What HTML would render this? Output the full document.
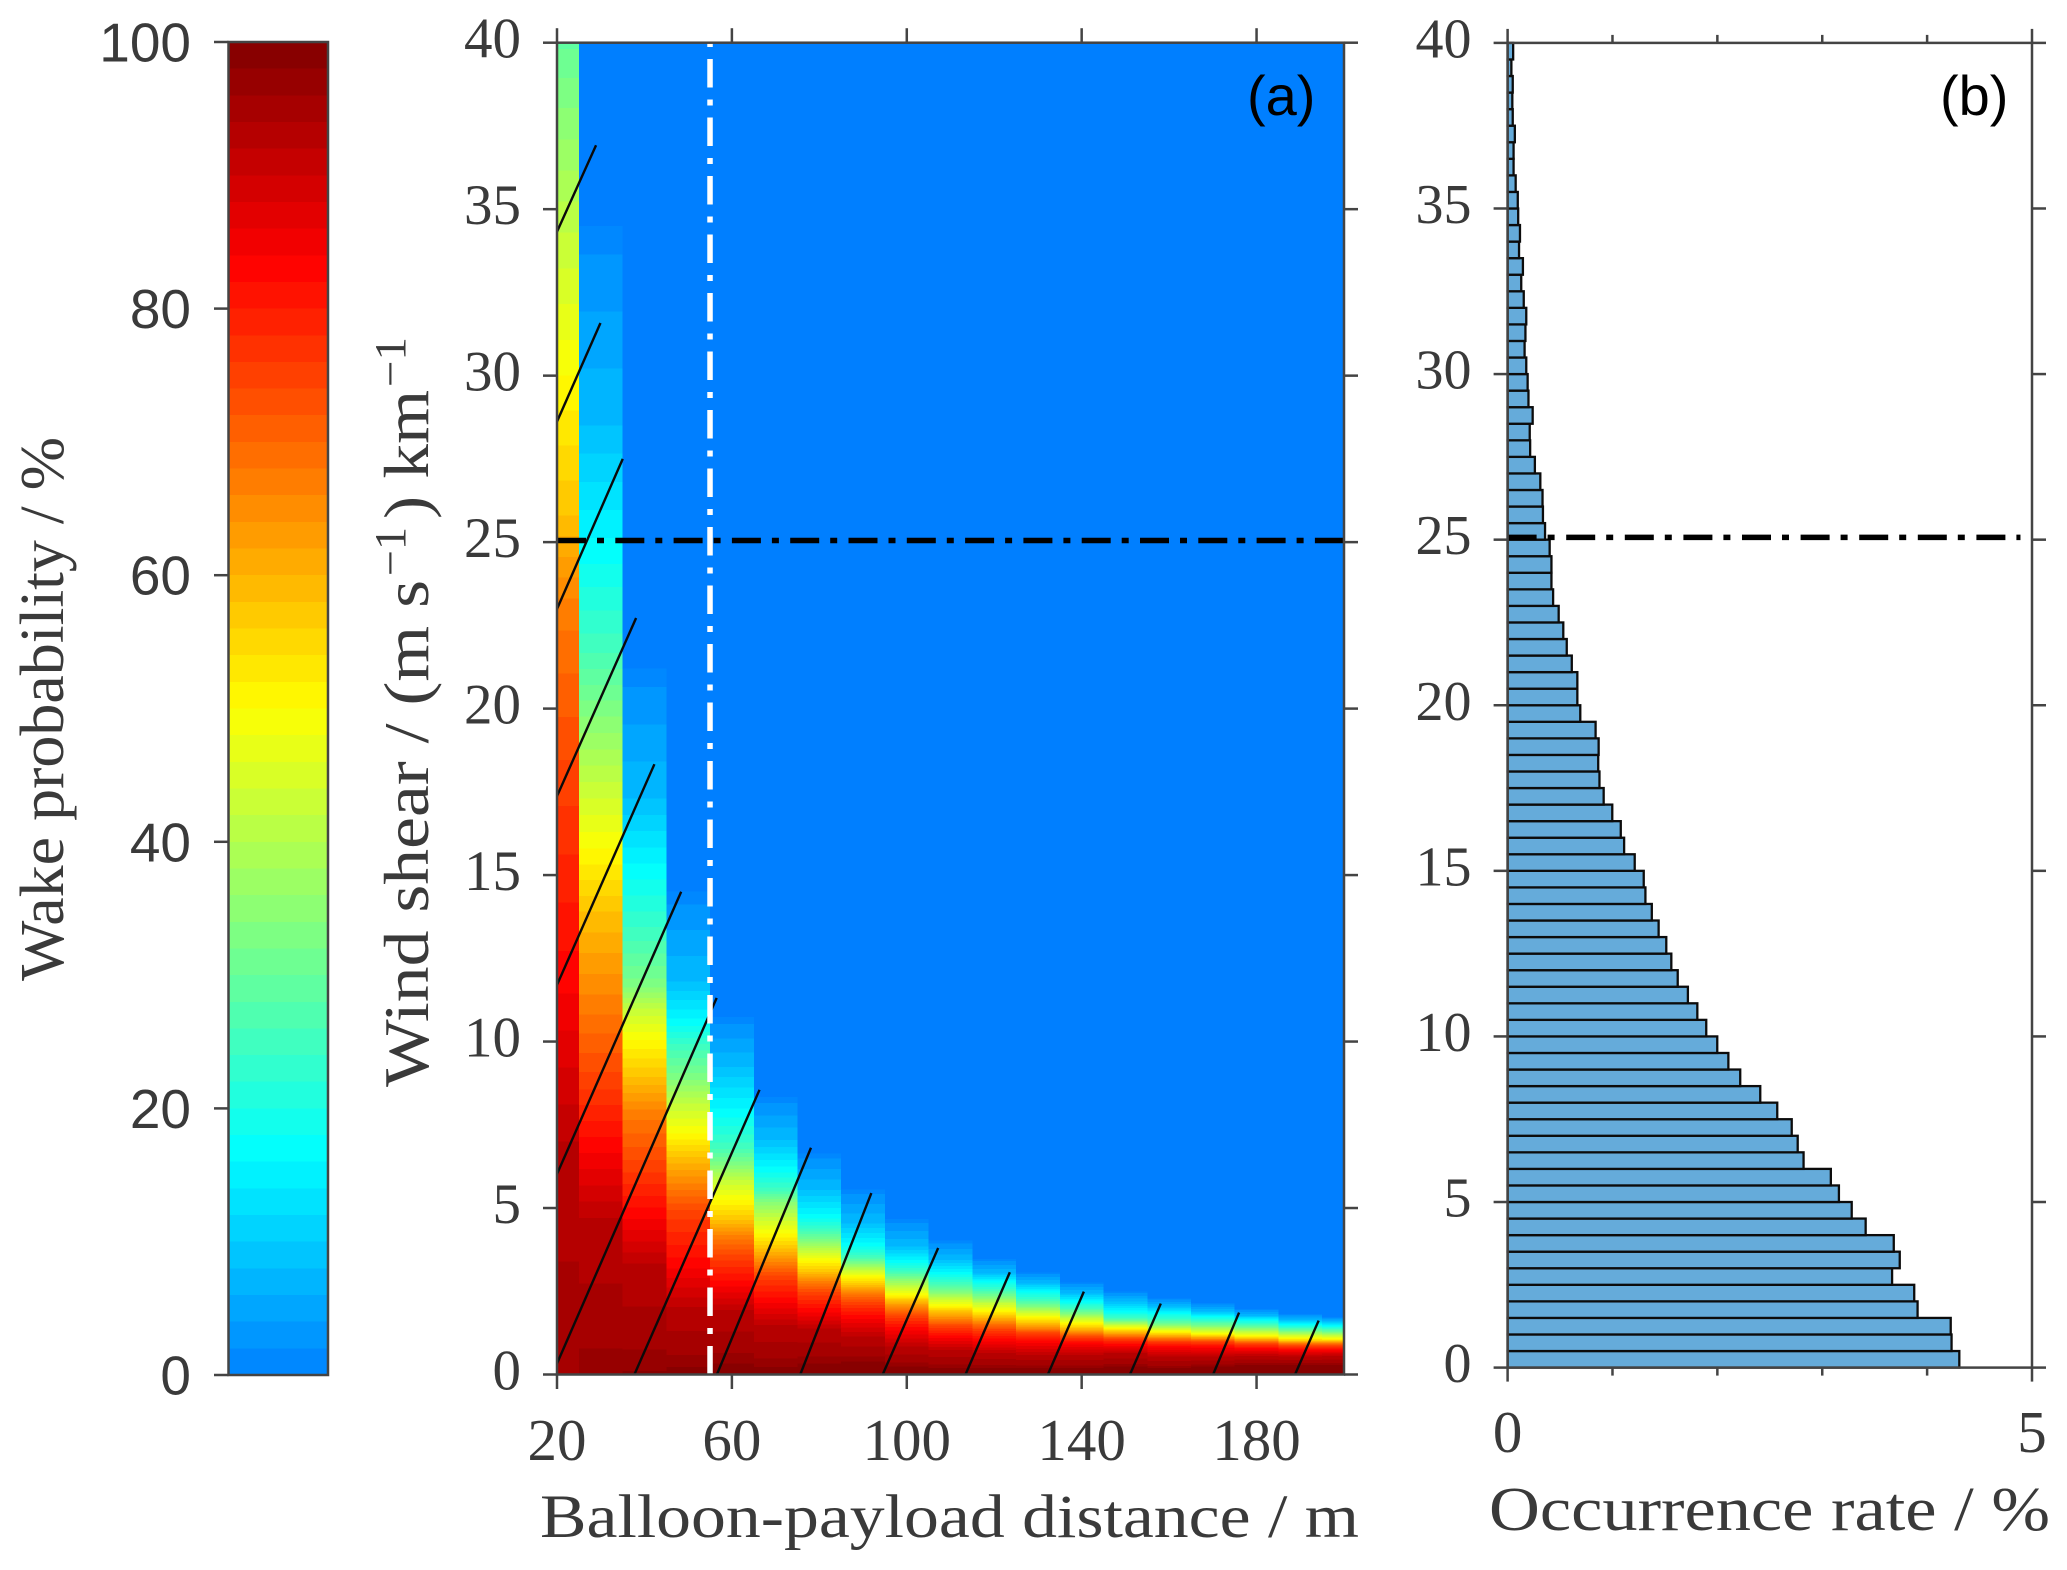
<!DOCTYPE html>
<html lang="en">
<head>
<meta charset="utf-8">
<title>Wake probability and wind shear occurrence</title>
<style>
html,body{margin:0;padding:0;background:#fff;}
svg{display:block;}
.serif{font-family:"Liberation Serif",serif;fill:#3a3a3a;}
.sans{font-family:"Liberation Sans",sans-serif;}
</style>
</head>
<body>
<svg id="fig" width="2067" height="1570" viewBox="0 0 2067 1570" xmlns="http://www.w3.org/2000/svg">
  <defs>
    <clipPath id="plotClip"><rect x="557" y="42.7" width="787" height="1331.8"/></clipPath>
  </defs>
  <rect x="0" y="0" width="2067" height="1570" fill="#fff"/>

  <g id="colorbar"></g>
  <g id="panelA">
    <rect x="557" y="42.7" width="787" height="1331.8" fill="#007fff"/>
    <g id="heat" clip-path="url(#plotClip)" shape-rendering="crispEdges"></g>
    <g id="diagonals" clip-path="url(#plotClip)"></g>
    <g id="refA"></g>
    <g id="axesA"></g>
  </g>
  <g id="panelB">
    <g id="bars"></g>
    <g id="refB"></g>
    <g id="axesB"></g>
  </g>

  <text class="serif" font-size="62" transform="rotate(-90 63 981)" x="63" y="981" textLength="544" lengthAdjust="spacingAndGlyphs">Wake probability / %</text>

  <text class="serif" font-size="63" transform="rotate(-90 428 1087)" x="428" y="1087" textLength="507" lengthAdjust="spacingAndGlyphs">Wind shear / (m s</text>
  <text class="serif" font-size="44" transform="rotate(-90 405 576)" x="405" y="576" textLength="49" lengthAdjust="spacingAndGlyphs">−1</text>
  <text class="serif" font-size="63" transform="rotate(-90 428 519)" x="428" y="519" textLength="129" lengthAdjust="spacingAndGlyphs">) km</text>
  <text class="serif" font-size="44" transform="rotate(-90 405 387)" x="405" y="387" textLength="50" lengthAdjust="spacingAndGlyphs">−1</text>

  <text class="serif" font-size="61" x="540" y="1537" textLength="819" lengthAdjust="spacingAndGlyphs">Balloon-payload distance / m</text>
  <text class="serif" font-size="62" x="1489" y="1530" textLength="561" lengthAdjust="spacingAndGlyphs">Occurrence rate / %</text>

  <text class="sans" font-size="56" fill="#000" x="1247" y="115">(a)</text>
  <text class="sans" font-size="56" fill="#000" x="1940" y="115">(b)</text>
</svg>

<script>
// ---- Colour scale ----
const colorStopValues = [0, 16.67, 33.33, 50, 66.67, 83.33, 100];
const colorStopReds = [0, 0, 128, 255, 255, 255, 128];
const colorStopGreens = [128, 255, 255, 255, 128, 0, 0];
const colorStopBlues = [255, 255, 128, 0, 0, 0, 0];
const colorbarTicks = [0, 20, 40, 60, 80, 100];

// ---- Panel (a): wake probability heatmap ----
const columnDistances = [20, 30, 40, 50, 60, 70, 80, 90, 100, 110, 120, 130, 140, 150, 160, 170, 180, 190, 200];
// probability levels (%) at which the shear values below were read, per column
const probLevels = [1, 8, 17, 25, 33, 42, 50, 58, 67, 75, 83, 92, 97];
const shearCol20 = [56, 53, 48, 42, 38.5, 34.3, 30, 25.8, 23, 17.8, 12, 7, -2];
const shearCol30 = [34.5, 28.5, 24.7, 21.9, 20, 17.8, 15.8, 13.9, 11.1, 8.8, 6.9, 4.7, -0.2];
const shearCol40 = [21.2, 17.3, 15.1, 13.2, 11.7, 11, 10.05, 8.94, 7.84, 6.24, 4.84, 3.33, 0.1];
const shearCol50 = [14.5, 11.8, 10.55, 9.84, 8.94, 8.14, 7.24, 6.54, 5.64, 4.84, 3.33, 2.03, 0.23];
const shearCol60 = [10.74, 9.24, 7.84, 6.84, 6.34, 5.84, 5.24, 4.64, 4.13, 3.53, 2.73, 1.93, 0.33];
const shearCol70 = [8.34, 7.04, 6.14, 5.54, 5.24, 4.73, 4.23, 3.78, 3.33, 2.93, 2.23, 1.48, 0.23];
const shearCol80 = [6.64, 5.54, 4.73, 4.33, 4.03, 3.73, 3.43, 3.08, 2.78, 2.43, 1.93, 1.38, 0.33];
const shearCol90 = [5.56, 4.54, 3.89, 3.54, 3.34, 3.14, 2.94, 2.69, 2.44, 2.14, 1.74, 1.14, 0.39];
const shearCol100 = [4.67, 3.84, 3.39, 3.09, 2.89, 2.64, 2.39, 2.22, 1.99, 1.74, 1.39, 0.84, 0.24];
const shearCol110 = [4.02, 3.44, 3.04, 2.74, 2.49, 2.29, 2.06, 1.89, 1.64, 1.44, 1.14, 0.74, 0.19];
const shearCol120 = [3.47, 3.04, 2.79, 2.54, 2.34, 2.14, 1.92, 1.74, 1.54, 1.34, 1.04, 0.64, 0.19];
const shearCol130 = [3.07, 2.74, 2.49, 2.24, 2.04, 1.89, 1.72, 1.54, 1.37, 1.24, 0.99, 0.59, 0.19];
const shearCol140 = [2.77, 2.44, 2.19, 1.99, 1.84, 1.69, 1.54, 1.39, 1.24, 1.12, 0.94, 0.59, 0.19];
const shearCol150 = [2.49, 2.19, 1.89, 1.69, 1.59, 1.49, 1.39, 1.29, 1.17, 1.07, 0.89, 0.64, 0.24];
const shearCol160 = [2.29, 2.04, 1.84, 1.64, 1.5, 1.39, 1.29, 1.19, 1.09, 0.99, 0.84, 0.54, 0.19];
const shearCol170 = [2.14, 1.89, 1.74, 1.59, 1.46, 1.34, 1.22, 1.14, 1.06, 0.98, 0.82, 0.54, 0.24];
const shearCol180 = [1.96, 1.76, 1.64, 1.5, 1.39, 1.28, 1.16, 1.08, 1.0, 0.92, 0.78, 0.56, 0.29];
const shearCol190 = [1.81, 1.64, 1.5, 1.39, 1.29, 1.19, 1.09, 1.0, 0.94, 0.86, 0.74, 0.54, 0.29];
const shearCol200 = [1.72, 1.59, 1.46, 1.36, 1.26, 1.17, 1.07, 1.0, 0.94, 0.86, 0.74, 0.56, 0.29];
const heatColumns = [shearCol20, shearCol30, shearCol40, shearCol50, shearCol60, shearCol70, shearCol80, shearCol90, shearCol100, shearCol110, shearCol120, shearCol130, shearCol140, shearCol150, shearCol160, shearCol170, shearCol180, shearCol190, shearCol200];

// diagonal lines: distance / shear of each end
const diagStartDistance = [20, 20, 20, 20, 20, 20, 20, 37.7, 56.57, 75.64, 94.49, 113.43, 132.27, 151.05, 170.06, 188.8];
const diagStartShear = [34.32, 28.62, 22.99, 17.37, 11.7, 6.02, 0.33, 0, 0, 0, 0, 0, 0, 0, 0, 0];
const diagEndDistance = [28.93, 29.94, 35.04, 38.09, 42.28, 48.4, 56.52, 66.32, 78.09, 91.9, 107.18, 123.57, 140.5, 158.1, 176, 194.2];
const diagEndShear = [36.92, 31.58, 27.5, 22.72, 18.33, 14.5, 11.31, 8.55, 6.81, 5.45, 3.8, 3.07, 2.49, 2.13, 1.86, 1.62];

const xTicksA = [20, 60, 100, 140, 180];
const yTicks = [0, 5, 10, 15, 20, 25, 30, 35, 40];
const refShearA = 25.05;
const refDistanceA = 55;

// ---- Panel (b): occurrence rate, bins of 0.5 from shear 0 upward ----
const occurrenceRates = [
  4.307, 4.233, 4.225, 3.909, 3.877, 3.666, 3.739, 3.682, 3.414, 3.281,
  3.159, 3.082, 2.822, 2.766, 2.709, 2.571, 2.409, 2.218, 2.105, 1.999,
  1.894, 1.809, 1.719, 1.622, 1.561, 1.513, 1.44, 1.375, 1.314, 1.298,
  1.212, 1.111, 1.079, 0.998, 0.916, 0.876, 0.864, 0.868, 0.839, 0.693,
  0.665, 0.665, 0.612, 0.564, 0.531, 0.487, 0.434, 0.418, 0.418, 0.401,
  0.357, 0.337, 0.333, 0.312, 0.26, 0.215, 0.211, 0.239, 0.199, 0.191,
  0.178, 0.162, 0.17, 0.178, 0.154, 0.13, 0.146, 0.109, 0.118, 0.101,
  0.097, 0.077, 0.057, 0.057, 0.069, 0.049, 0.045, 0.049, 0.036, 0.053
];
const binWidth = 0.5;
const xTicksB = [0, 1, 2, 3, 4, 5];
const xTickLabelsB = [0, 5];
const refShearB = 25.07;
const refRateEndB = 4.89;

// ---- Axis functions ----
const xA = d => 557 + (d - 20) * (787 / 180);
const yA = s => 1374.5 - s * (1331.8 / 40);
const xB = v => 1507.6 + v * (524.4 / 5);
const yB = s => 1367.6 - s * (1324.7 / 40);
const yC = p => 1375 - p * (1333 / 100);

const NS = 'http://www.w3.org/2000/svg';
const AXIS = '#444';
function mk(tag, attrs, parent) {
  const el = document.createElementNS(NS, tag);
  for (const k in attrs) el.setAttribute(k, attrs[k]);
  parent.appendChild(el);
  return el;
}
function colorAt(p) {
  let i = 0;
  while (i < colorStopValues.length - 2 && p > colorStopValues[i + 1]) i++;
  const t = (p - colorStopValues[i]) / (colorStopValues[i + 1] - colorStopValues[i]);
  const f = c => Math.round(c[i] + (c[i + 1] - c[i]) * t);
  return 'rgb(' + f(colorStopReds) + ',' + f(colorStopGreens) + ',' + f(colorStopBlues) + ')';
}
function shearAt(col, p) {
  const L = probLevels;
  if (p <= L[0]) return col[0];
  for (let i = 1; i < L.length; i++) {
    if (p <= L[i]) return col[i - 1] + (col[i] - col[i - 1]) * (p - L[i - 1]) / (L[i] - L[i - 1]);
  }
  return col[col.length - 1];
}

// ---- Colourbar ----
const cb = document.getElementById('colorbar');
for (let i = 0; i < 50; i++) {
  const band = mk('rect', {x: 228.5, y: yC(2 * i + 2), width: 99.5, height: yC(2 * i) - yC(2 * i + 2), fill: colorAt(2 * i + 1), 'shape-rendering': 'crispEdges'}, cb);
  
  
}
const cbFrame = mk('rect', {x: 228.5, y: yC(100), width: 99.5, height: yC(0) - yC(100), fill: 'none', stroke: AXIS, 'stroke-width': 2.5}, cb);


colorbarTicks.forEach(t => {
  const tick = mk('line', {x1: 214, x2: 228.5, y1: yC(t), y2: yC(t), stroke: AXIS, 'stroke-width': 2.5}, cb);
  
  
  const lab = mk('text', {x: 191, y: yC(t) + 19.5, 'text-anchor': 'end', 'font-size': 55, fill: '#3a3a3a', 'font-family': '"Liberation Sans", sans-serif'}, cb);
  
  
  lab.textContent = t;
});

// ---- Heatmap ----
const heat = document.getElementById('heat');
columnDistances.forEach((d, c) => {
  const col = heatColumns[c];
  const x0 = xA(d - 5), x1 = xA(d + 5);
  for (let i = 0; i < 49; i++) {
    const pLow = Math.max(2 * i, probLevels[0]);
    const pHigh = Math.min(2 * i + 2, probLevels[probLevels.length - 1]);
    if (pHigh <= pLow) continue;
    const yTop = yA(shearAt(col, pLow));
    const yBot = yA(shearAt(col, pHigh));
    if (yBot <= yTop) continue;
    const cell = mk('rect', {x: x0, y: yTop, width: x1 - x0, height: yBot - yTop + 0.5, fill: colorAt(2 * i + 1)}, heat);
    
    
  }
  const last = col[col.length - 1];
  if (last > 0) {
    const cell = mk('rect', {x: x0, y: yA(last), width: x1 - x0, height: yA(0) - yA(last), fill: colorAt(99)}, heat);
    
    
  }
});

// ---- Diagonal lines ----
const diag = document.getElementById('diagonals');
diagStartDistance.forEach((d, i) => {
  const ln = mk('line', {x1: xA(d), y1: yA(diagStartShear[i]), x2: xA(diagEndDistance[i]), y2: yA(diagEndShear[i]), stroke: '#0a0a0a', 'stroke-width': 2.4}, diag);
  
  
});

// ---- Reference lines (a) ----
const refA = document.getElementById('refA');
const vRef = mk('line', {x1: xA(refDistanceA), x2: xA(refDistanceA), y1: yA(0), y2: yA(40), stroke: '#fff', 'stroke-width': 5.5, 'stroke-dasharray': '28.5 12 6 12'}, refA);


const hRef = mk('line', {x1: xA(20), x2: xA(200), y1: yA(refShearA), y2: yA(refShearA), stroke: '#000', 'stroke-width': 5.5, 'stroke-dasharray': '29 11 7 11.3'}, refA);



// ---- Axes (a) ----
const axA = document.getElementById('axesA');
const frameA = mk('rect', {x: xA(20), y: yA(40), width: xA(200) - xA(20), height: yA(0) - yA(40), fill: 'none', stroke: AXIS, 'stroke-width': 2.5}, axA);


yTicks.forEach(t => {
  const left = mk('line', {x1: 543, x2: 557, y1: yA(t), y2: yA(t), stroke: AXIS, 'stroke-width': 2.5}, axA);
  
  
  const right = mk('line', {x1: 1344, x2: 1358, y1: yA(t), y2: yA(t), stroke: AXIS, 'stroke-width': 2.5}, axA);
  
  
  const lab = mk('text', {x: 521, y: yA(t) + 15, 'text-anchor': 'end', 'font-size': 57, fill: '#3a3a3a', 'font-family': '"Liberation Serif", serif'}, axA);
  
  
  lab.textContent = t;
});
xTicksA.forEach(t => {
  const bottom = mk('line', {x1: xA(t), x2: xA(t), y1: yA(0), y2: yA(0) + 14.5, stroke: AXIS, 'stroke-width': 2.5}, axA);
  
  
  const top = mk('line', {x1: xA(t), x2: xA(t), y1: yA(40), y2: yA(40) - 14.5, stroke: AXIS, 'stroke-width': 2.5}, axA);
  
  
  const lab = mk('text', {x: xA(t), y: 1460, 'text-anchor': 'middle', 'font-size': 59, fill: '#3a3a3a', 'font-family': '"Liberation Serif", serif'}, axA);
  
  
  lab.textContent = t;
});

// ---- Bars (b) ----
const bars = document.getElementById('bars');
occurrenceRates.forEach((v, i) => {
  const yTop = yB((i + 1) * binWidth), yBot = yB(i * binWidth);
  const bar = mk('rect', {x: xB(0), y: yTop, width: xB(v) - xB(0), height: yBot - yTop, fill: '#65abda', stroke: '#0c0c0c', 'stroke-width': 2.3}, bars);
  
  
});

// ---- Reference line (b) ----
const refB = document.getElementById('refB');
const hRefB = mk('line', {x1: xB(0), x2: xB(refRateEndB), y1: yB(refShearB), y2: yB(refShearB), stroke: '#000', 'stroke-width': 5.5, 'stroke-dasharray': '29 11 7 11.6'}, refB);



// ---- Axes (b) ----
const axB = document.getElementById('axesB');
const frameB = mk('rect', {x: xB(0), y: yB(40), width: xB(5) - xB(0), height: yB(0) - yB(40), fill: 'none', stroke: AXIS, 'stroke-width': 2.5}, axB);


yTicks.forEach(t => {
  const left = mk('line', {x1: xB(0) - 14, x2: xB(0), y1: yB(t), y2: yB(t), stroke: AXIS, 'stroke-width': 2.5}, axB);
  
  
  const right = mk('line', {x1: xB(5), x2: xB(5) + 14, y1: yB(t), y2: yB(t), stroke: AXIS, 'stroke-width': 2.5}, axB);
  
  
  const lab = mk('text', {x: 1471.5, y: yB(t) + 14.5, 'text-anchor': 'end', 'font-size': 56, fill: '#3a3a3a', 'font-family': '"Liberation Serif", serif'}, axB);
  
  
  lab.textContent = t;
});
xTicksB.forEach(t => {
  const len = xTickLabelsB.includes(t) ? 14 : 8;
  const bottom = mk('line', {x1: xB(t), x2: xB(t), y1: yB(0), y2: yB(0) + len, stroke: AXIS, 'stroke-width': 2.5}, axB);
  
  
  const top = mk('line', {x1: xB(t), x2: xB(t), y1: yB(40), y2: yB(40) - len, stroke: AXIS, 'stroke-width': 2.5}, axB);
  
  
});
xTickLabelsB.forEach(t => {
  const lab = mk('text', {x: xB(t), y: 1452, 'text-anchor': 'middle', 'font-size': 59, fill: '#3a3a3a', 'font-family': '"Liberation Serif", serif'}, axB);
  
  
  lab.textContent = t;
});
</script>
</body>
</html>
